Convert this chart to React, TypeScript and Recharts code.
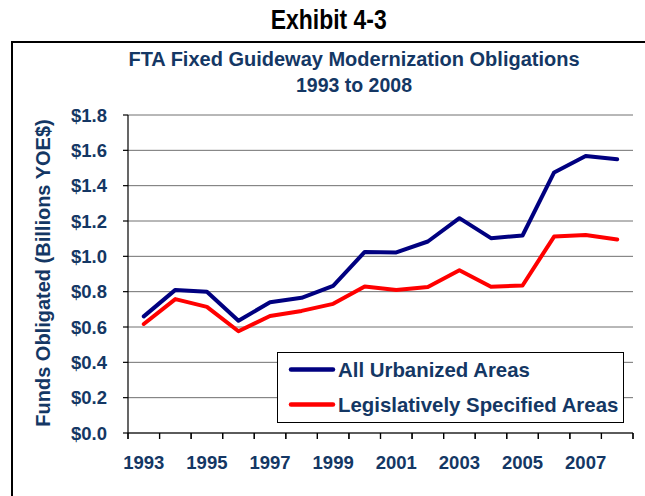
import { LineChart, Line, XAxis, YAxis, CartesianGrid, Legend } from 'recharts'

const YEARS = [1993, 1994, 1995, 1996, 1997, 1998, 1999, 2000, 2001, 2002, 2003, 2004, 2005, 2006, 2007, 2008]
const URBANIZED = [0.66, 0.81, 0.8, 0.635, 0.74, 0.765, 0.833, 1.025, 1.022, 1.084, 1.216, 1.103, 1.118, 1.475, 1.568, 1.549]
const LEGISLATIVE = [0.617, 0.758, 0.714, 0.576, 0.662, 0.691, 0.731, 0.829, 0.81, 0.827, 0.921, 0.828, 0.835, 1.112, 1.121, 1.095]
const Y_TICKS = [0, 0.2, 0.4, 0.6, 0.8, 1.0, 1.2, 1.4, 1.6, 1.8]
const YEAR_LABELS = [1993, 1995, 1997, 1999, 2001, 2003, 2005, 2007]
const YEAR_EDGES = [1992.5, ...YEARS.map((y) => y + 0.5)]

const NAVY = '#143764'
const FONT = '"Liberation Sans", Arial, sans-serif'

const data = YEARS.map((year, i) => ({
  year,
  urbanized: URBANIZED[i],
  legislative: LEGISLATIVE[i],
}))

function YTick({ x, y, payload }: any) {
  return (
    <text x={x - 16} y={y + 6.5} textAnchor="end" fill={NAVY} fontSize={18.5} fontWeight="bold" fontFamily={FONT}>
      {`$${Number(payload.value).toFixed(1)}`}
    </text>
  )
}

function XLabel({ x, y, payload }: any) {
  return (
    <text x={x} y={y + 30} textAnchor="middle" fill={NAVY} fontSize={18.5} fontWeight="bold" fontFamily={FONT}>
      {payload.value}
    </text>
  )
}

// tick mark between years, drawn from the axis position
function EdgeTick({ x, y }: any) {
  return <line x1={x} x2={x} y1={y - 6} y2={y} stroke="#000" strokeWidth={1.2} />
}

function renderLegend({ payload }: any) {
  return (
    <svg width={347} height={71} style={{ display: 'block' }}>
      <rect x={0.5} y={0.5} width={346} height={70} fill="#fff" stroke="#000" strokeWidth={1} />
      {(payload || []).map((p: any, i: number) => {
        const cy = 17.5 + i * 35
        return (
          <g key={p.value}>
            <line x1={14} x2={56} y1={cy} y2={cy} stroke={p.color} strokeWidth={4.5} strokeLinecap="round" />
            <text x={61} y={cy + 7} fill={NAVY} fontSize={20.4} fontWeight="bold" fontFamily={FONT}>
              {p.value}
            </text>
          </g>
        )
      })}
    </svg>
  )
}

export default function App() {
  return (
    <div style={{ position: 'absolute', left: 0, top: 0, width: 645, height: 496, overflow: 'hidden', background: '#fff' }}>
      <div
        style={{
          position: 'absolute',
          left: 11,
          top: 41,
          width: 700,
          height: 500,
          borderLeft: '2px solid #000',
          borderTop: '2px solid #000',
        }}
      />
      <div style={{ position: 'absolute', left: 0, top: 0 }}>
        <LineChart width={645} height={496} data={data} margin={{ top: 115, right: 12, left: 0, bottom: 17 }}>
          <CartesianGrid vertical={false} stroke="#707070" />
          <XAxis
            xAxisId="grid"
            dataKey="year"
            type="number"
            domain={[1992.5, 2008.5]}
            ticks={YEAR_EDGES}
            interval={0}
            height={6}
            tickSize={6}
            tickMargin={0}
            tick={<EdgeTick />}
            axisLine={{ stroke: '#000', strokeWidth: 1.2 }}
            tickLine={{ stroke: '#000', strokeWidth: 1.2 }}
            allowDataOverflow
          />
          <XAxis
            xAxisId="labels"
            dataKey="year"
            type="number"
            domain={[1992.5, 2008.5]}
            ticks={YEAR_LABELS}
            interval={0}
            height={40}
            tickSize={0}
            tickMargin={0}
            tick={<XLabel />}
            axisLine={false}
            tickLine={false}
            allowDataOverflow
          />
          <YAxis
            domain={[0, 1.8]}
            ticks={Y_TICKS}
            interval={0}
            width={128}
            tickSize={5}
            tickMargin={0}
            tick={<YTick />}
            axisLine={{ stroke: '#000', strokeWidth: 1.2 }}
            tickLine={{ stroke: '#000', strokeWidth: 1.2 }}
          />
          <Legend
            content={renderLegend}
            layout="horizontal"
            verticalAlign="middle"
            align="center"
            wrapperStyle={{ left: 277, top: 352, width: 347, height: 71 }}
          />
          <Line
            xAxisId="grid"
            type="linear"
            dataKey="urbanized"
            name="All Urbanized Areas"
            stroke="#000080"
            strokeWidth={4}
            strokeLinecap="round"
            strokeLinejoin="round"
            dot={false}
            isAnimationActive={false}
          />
          <Line
            xAxisId="grid"
            type="linear"
            dataKey="legislative"
            name="Legislatively Specified Areas"
            stroke="#FF0000"
            strokeWidth={4}
            strokeLinecap="round"
            strokeLinejoin="round"
            dot={false}
            isAnimationActive={false}
          />
        </LineChart>
      </div>
      <svg width={645} height={496} style={{ position: 'absolute', left: 0, top: 0, pointerEvents: 'none' }}>
        <text
          x={328.7}
          y={29}
          textAnchor="middle"
          fill="#000"
          fontSize={28}
          fontWeight="bold"
          fontFamily={'"Liberation Sans Narrow", "Arial Narrow", ' + FONT}
          textLength={116}
          lengthAdjust="spacingAndGlyphs"
        >
          Exhibit 4-3
        </text>
        <text x={354} y={65.7} textAnchor="middle" fill={NAVY} fontSize={20} fontWeight="bold" fontFamily={FONT}>
          FTA Fixed Guideway Modernization Obligations
        </text>
        <text x={354} y={91.7} textAnchor="middle" fill={NAVY} fontSize={19.5} fontWeight="bold" fontFamily={FONT}>
          1993 to 2008
        </text>
        <text
          transform="translate(49.5,273) rotate(-90)"
          textAnchor="middle"
          fill={NAVY}
          fontSize={20}
          fontWeight="bold"
          fontFamily={FONT}
        >
          Funds Obligated (Billions YOE$)
        </text>
      </svg>
    </div>
  )
}
